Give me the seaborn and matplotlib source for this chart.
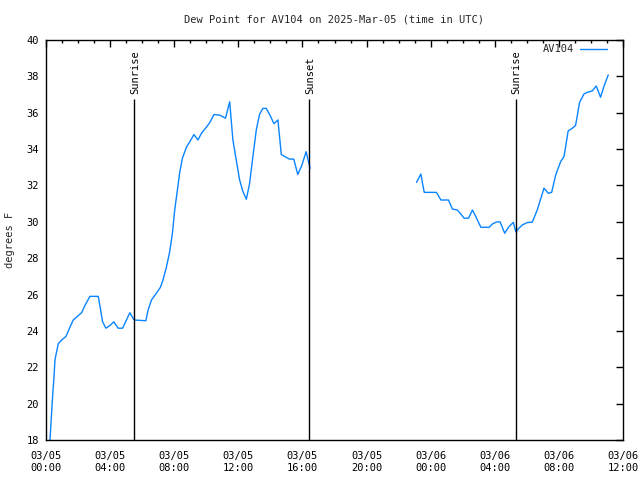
import numpy as np
import pandas as pd
import matplotlib
matplotlib.use("Agg")
import matplotlib.pyplot as plt
import seaborn as sns
from matplotlib.ticker import FixedLocator, MultipleLocator
from matplotlib.lines import Line2D

# ---- data (hours since 2025-03-05 00:00 UTC, dew point in degrees F) ----
hours = [
    0.25, 0.35, 0.42, 0.50, 0.56, 0.67, 0.77, 0.98, 1.25, 1.49, 1.70, 2.22, 2.43, 2.74,
    3.26, 3.41, 3.53, 3.74, 3.99, 4.23, 4.50, 4.78, 5.02, 5.23, 5.50, 6.23, 6.37, 6.58,
    6.85, 7.14, 7.30, 7.51, 7.72, 7.89, 8.03, 8.20, 8.34, 8.51, 8.76, 8.97, 9.23, 9.48,
    9.70, 10.00, 10.21, 10.48, 10.83, 11.20, 11.46, 11.66, 11.87, 12.08, 12.29, 12.50,
    12.70, 12.91, 13.12, 13.32, 13.53, 13.74, 14.01, 14.22, 14.47, 14.68, 14.88, 15.19,
    15.46, 15.71, 15.96, 16.23, 16.38, 16.48,
    23.12, 23.39, 23.49, 23.60, 24.36, 24.64, 25.11, 25.36, 25.67, 26.09, 26.36, 26.61,
    26.82, 27.13, 27.65, 27.85, 28.10, 28.33, 28.62, 28.89, 29.16, 29.31, 29.51, 29.72,
    30.03, 30.34, 30.65, 31.07, 31.34, 31.55, 31.80, 32.11, 32.32, 32.58, 32.83, 33.04,
    33.29, 33.56, 33.77, 34.08, 34.33, 34.60, 34.81, 35.08,
]
dewpoint = [
    18.0, 19.5, 20.5, 21.5, 22.4, 22.9, 23.3, 23.5, 23.7, 24.2, 24.6, 25.0, 25.4, 25.9,
    25.9, 25.15, 24.5, 24.15, 24.3, 24.5, 24.15, 24.15, 24.6, 25.0, 24.6, 24.56, 25.15, 25.7,
    26.03, 26.4, 26.8, 27.5, 28.36, 29.4, 30.65, 31.75, 32.7, 33.5, 34.1, 34.4, 34.8, 34.5,
    34.87, 35.2, 35.45, 35.9, 35.87, 35.7, 36.6, 34.5, 33.4, 32.3, 31.66, 31.24,
    32.1, 33.6, 35.05, 35.9, 36.24, 36.24, 35.8, 35.4, 35.6, 33.7, 33.6, 33.45,
    33.45, 32.6, 33.1, 33.86, 33.3, 32.94,
    32.17, 32.63, 32.12, 31.62, 31.62, 31.2, 31.2, 30.7, 30.65, 30.2, 30.2, 30.65,
    30.28, 29.7, 29.7, 29.88, 29.99, 30.0, 29.37, 29.74, 29.97, 29.45, 29.65, 29.83,
    29.96, 29.98, 30.65, 31.85, 31.57, 31.62, 32.58, 33.31, 33.6, 35.0, 35.14, 35.3,
    36.56, 37.03, 37.12, 37.2, 37.47, 36.85, 37.45, 38.08,
]
sun_events = ["Sunrise", "Sunset", "Sunrise"]
sun_hours = [5.49, 16.41, 29.32]
xtick_hours = [0, 4, 8, 12, 16, 20, 24, 28, 32, 36]
xtick_labels = ["03/05\n00:00", "03/05\n04:00", "03/05\n08:00", "03/05\n12:00",
                "03/05\n16:00", "03/05\n20:00", "03/06\n00:00", "03/06\n04:00",
                "03/06\n08:00", "03/06\n12:00"]
series_name = "AV104"
title = "Dew Point for AV104 on 2025-Mar-05 (time in UTC)"

# ---- build table; break line at data gaps ----
df = pd.DataFrame({"hour": hours, "dew": dewpoint})
df["seg"] = (df["hour"].diff() > 2).cumsum()

sns.set_style("white")
plt.rcParams["font.family"] = ["DejaVu Sans Mono"]
plt.rcParams["font.size"] = 7.5

fig = plt.figure(figsize=(6.4, 4.8), dpi=100)
ax = fig.add_axes([46 / 640, 40 / 480, (623 - 46) / 640, 400 / 480])

color = "#0a84ff"
sns.lineplot(data=df, x="hour", y="dew", units="seg", estimator=None,
             color=color, linewidth=1.0, ax=ax, legend=False)

ax.set_xlim(0, 36)
ax.set_ylim(18, 40)
ax.xaxis.set_major_locator(FixedLocator(xtick_hours))
ax.set_xticklabels(xtick_labels)
ax.xaxis.set_minor_locator(MultipleLocator(1))
ax.yaxis.set_major_locator(MultipleLocator(2))
ax.tick_params(which="both", direction="in", top=True, right=True, colors="black",
               labelsize=7.5)
ax.tick_params(which="major", length=5, width=1)
ax.tick_params(which="minor", length=2.5, width=1)
ax.tick_params(axis="x", pad=8)
ax.tick_params(axis="y", pad=5)
ax.set_xlabel("")
ax.set_ylabel("")
for s in ax.spines.values():
    s.set_color("black")
    s.set_linewidth(1)
    s.set_visible(True)

for name, h in zip(sun_events, sun_hours):
    ax.vlines(h, 18, 36.75, color="black", linewidth=1)
    ax.text(h + 0.05, 37.05, name, rotation=90, ha="center", va="bottom",
            fontsize=7.5, color="black")

handle = Line2D([0], [0], color=color, linewidth=1)
ax.legend([handle], [series_name], loc="upper right", frameon=False,
          markerfirst=False, handlelength=2.6, handletextpad=0.6, fontsize=7.5,
          bbox_to_anchor=(0.98, 1.0), borderaxespad=0.0)

fig.text(334 / 640, 1 - 19 / 480, title, ha="center", va="center", fontsize=7.5)
fig.text(10 / 640, 240 / 480, "degrees F", rotation=90, ha="center", va="center",
         fontsize=7.5)

fig.savefig("out.png", dpi=100, facecolor="white")
